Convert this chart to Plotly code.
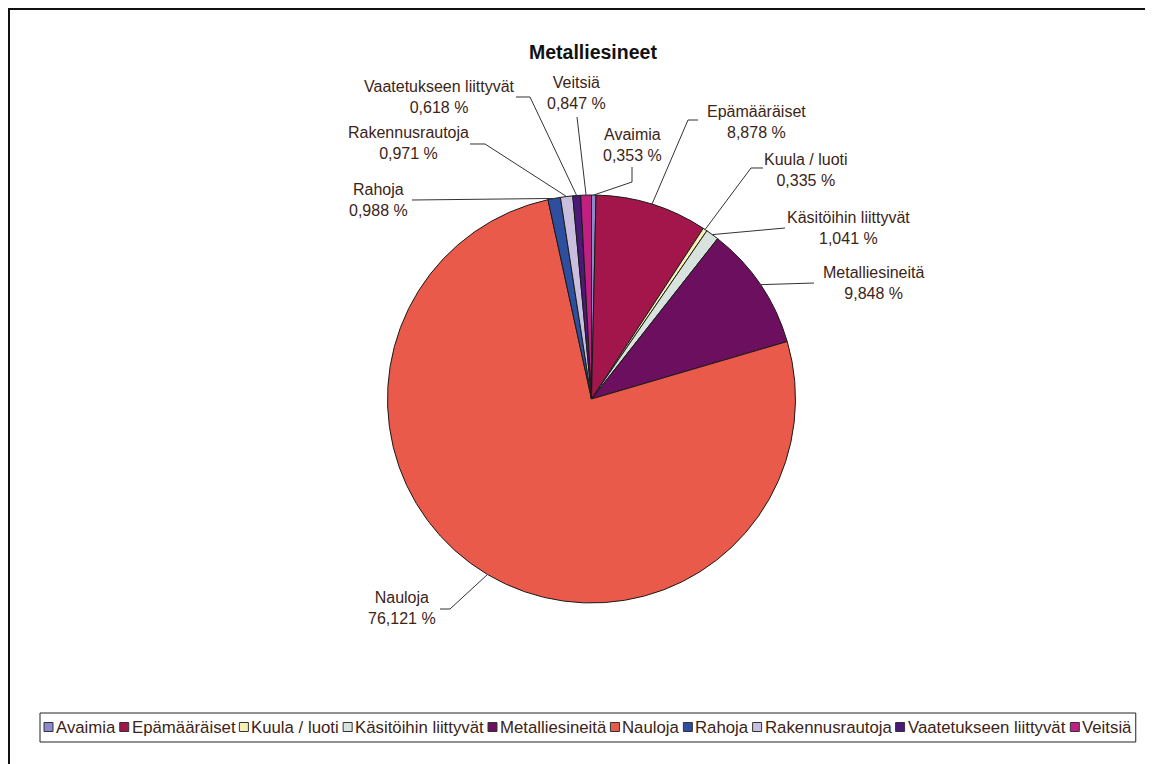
import math
import plotly.graph_objects as go

# ---------------- data ----------------
categories = ["Avaimia", "Epämääräiset", "Kuula / luoti", "Käsitöihin liittyvät",
              "Metalliesineitä", "Nauloja", "Rahoja", "Rakennusrautoja",
              "Vaatetukseen liittyvät", "Veitsiä"]
values = [0.353, 8.878, 0.335, 1.041, 9.848, 76.121, 0.988, 0.971, 0.618, 0.847]
title_text = "Metalliesineet"

# ---------------- styles / layout ----------------
colors = ["#8b8bcc", "#a3164b", "#f7f1b6", "#d9e3de", "#6b0f5e",
          "#ea5a4a", "#2e4fa0", "#c9bede", "#4b1978", "#c0207f"]

W, H = 1153, 764
OFF = 8  # page body margin offset
CX, CY, R = 591.5, 399.0, 204.0  # pie centre / radius in page px
FONT = "Liberation Sans, Arial, sans-serif"
TXT_COL = "#3c2418"

# label placement (page px): text centre, then leader-line points from text toward slice
label_layout = {
    "Avaimia": ((632, 145), [(632, 167), (632, 182)]),
    "Epämääräiset": ((756, 122), [(698, 120), (688, 120)]),
    "Kuula / luoti": ((806, 170), [(763, 168), (751, 168)]),
    "Käsitöihin liittyvät": ((848, 228), [(785, 228)]),
    "Metalliesineitä": ((873, 283), [(814, 283)]),
    "Nauloja": ((402, 608), [(440, 609), (450, 609)]),
    "Rahoja": ((378, 200), [(412, 200)]),
    "Rakennusrautoja": ((408, 143), [(470, 144), (485, 144)]),
    "Vaatetukseen liittyvät": ((439, 97), [(516, 97), (530, 97)]),
    "Veitsiä": ((576, 93), [(577, 117)]),
}


def px(x):
    return (x - OFF) / W


def py(y):
    return 1 - (y - OFF) / H


fig = go.Figure()
fig.add_trace(go.Pie(
    labels=categories, values=values, sort=False, direction="clockwise",
    rotation=0, textinfo="none", hoverinfo="label+percent",
    marker=dict(colors=colors, line=dict(color="#1a1a1a", width=1)),
    domain=dict(x=[px(CX - R), px(CX + R)], y=[py(CY + R), py(CY - R)]),
    showlegend=False,
))

shapes = []
annotations = []

# outer frame
shapes.append(dict(type="rect", xref="paper", yref="paper",
                   x0=px(OFF + 1), x1=px(1148), y0=py(OFF + 1), y1=-0.02,
                   line=dict(color="#111", width=2)))

# labels + leader lines, leader end computed from slice mid-angle
total = sum(values)
cum = 0.0
for name, v in zip(categories, values):
    mid = (cum + v / 2) / total * 2 * math.pi
    cum += v
    ex = CX + R * math.sin(mid)
    ey = CY - R * math.cos(mid)
    (tx, ty), pts = label_layout[name]
    pts = pts + [(ex, ey)]
    path = "M " + " L ".join(f"{px(a):.5f},{py(b):.5f}" for a, b in pts)
    shapes.append(dict(type="path", xref="paper", yref="paper", path=path,
                       line=dict(color="#333", width=1)))
    pct = f"{v:.3f}".replace(".", ",") + " %"
    annotations.append(dict(x=px(tx), y=py(ty), xref="paper", yref="paper",
                            text=f"{name}<br>{pct}", showarrow=False,
                            xanchor="center", yanchor="middle", align="center",
                            font=dict(family=FONT, size=16, color=TXT_COL)))

# title
annotations.append(dict(x=px(593), y=py(52), xref="paper", yref="paper",
                        text=f"<b>{title_text}</b>", showarrow=False,
                        xanchor="center", yanchor="middle",
                        font=dict(family=FONT, size=19.5, color="#111")))

# legend (manual, Arial/Liberation metrics for text widths)
CW = {" ": 278, "/": 278, "A": 667, "E": 667, "K": 667, "M": 833, "N": 722,
      "R": 722, "V": 667, "a": 556, "e": 556, "h": 556, "i": 222, "j": 222,
      "k": 500, "l": 222, "m": 833, "n": 556, "o": 556, "p": 556, "r": 333,
      "s": 500, "t": 278, "u": 556, "v": 500, "y": 500, "ä": 556, "ö": 556}
LFS = 16.8
SYM = 9
LY = 727
x = 44.0
for name, c in zip(categories, colors):
    shapes.append(dict(type="rect", xref="paper", yref="paper",
                       x0=px(x), x1=px(x + SYM), y0=py(LY + SYM / 2), y1=py(LY - SYM / 2),
                       fillcolor=c, line=dict(color="#333", width=1)))
    tx = x + SYM + 2
    annotations.append(dict(x=px(tx), y=py(LY), xref="paper", yref="paper",
                            text=name, showarrow=False, xanchor="left",
                            yanchor="middle", borderpad=0,
                            font=dict(family=FONT, size=LFS, color=TXT_COL)))
    tw = sum(CW.get(ch, 556) for ch in name) / 1000 * LFS
    x = tx + tw + 5
legend_right = x - 1
shapes.append(dict(type="rect", xref="paper", yref="paper",
                   x0=px(40), x1=px(legend_right), y0=py(742), y1=py(713),
                   line=dict(color="#222", width=1), fillcolor="rgba(0,0,0,0)"))

fig.update_layout(
    width=W, height=H, margin=dict(l=0, r=0, t=0, b=0),
    paper_bgcolor="white", plot_bgcolor="white",
    shapes=shapes, annotations=annotations, showlegend=False,
)

fig.write_html("out.html")
